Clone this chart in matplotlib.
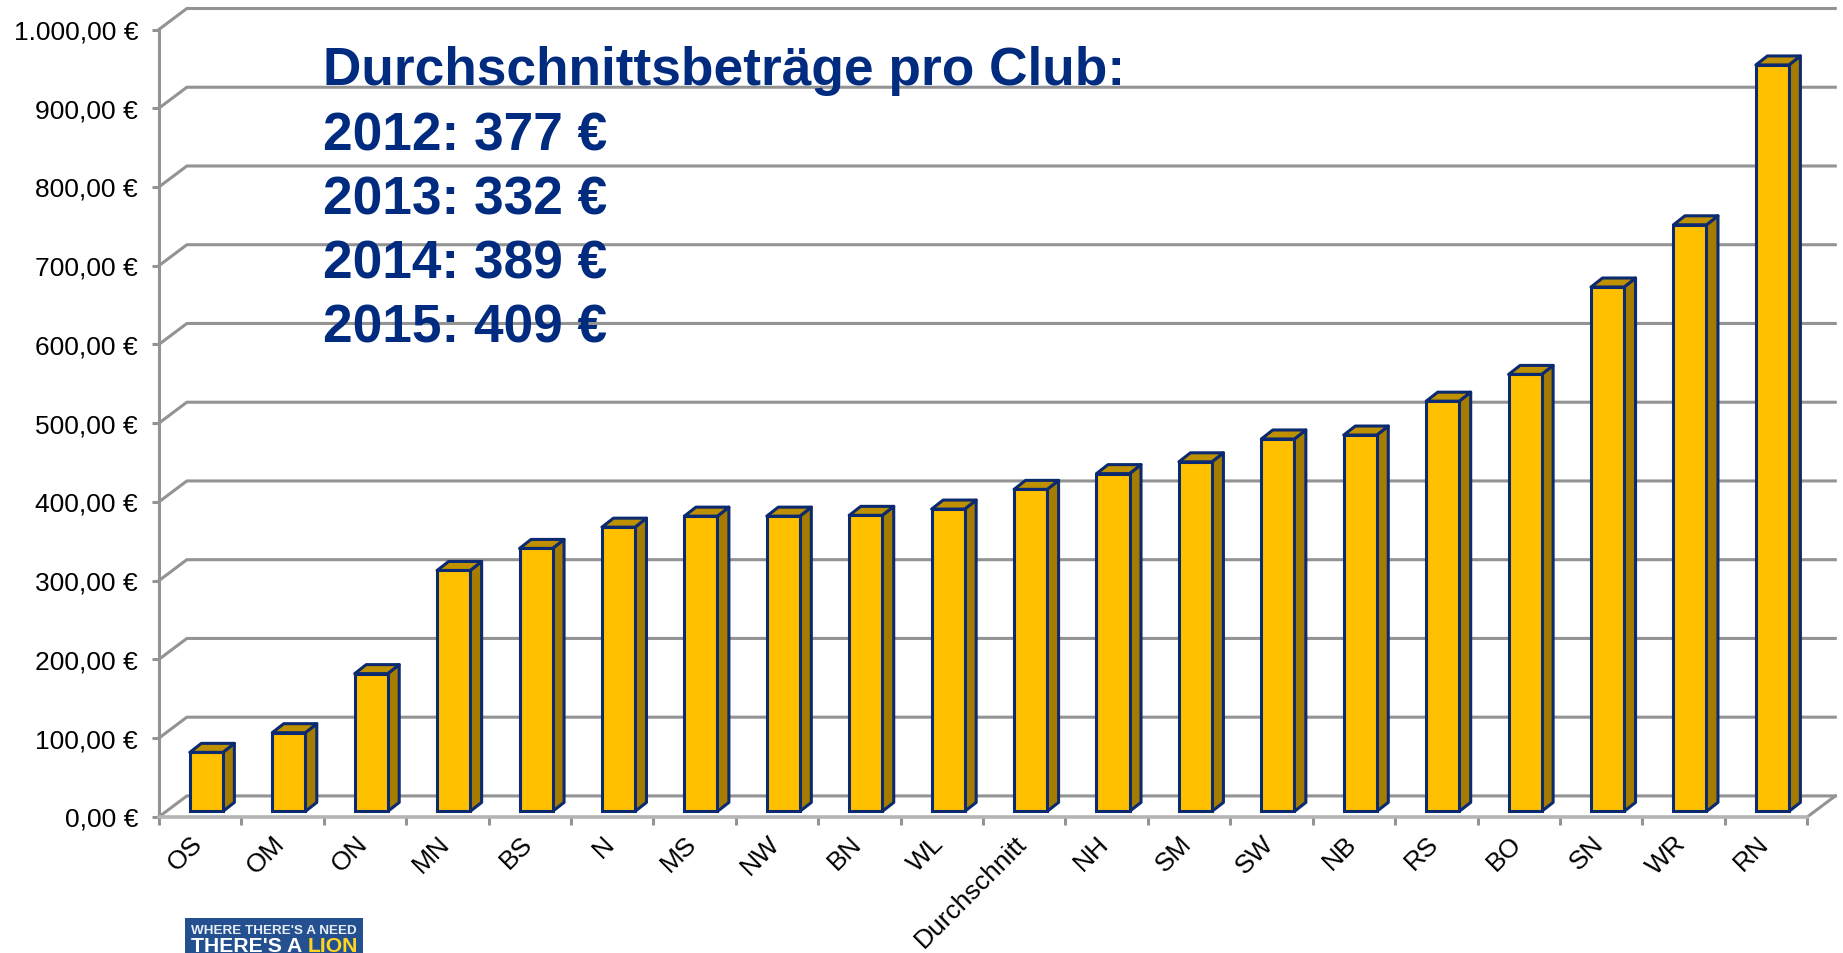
import matplotlib
matplotlib.use("Agg")
from matplotlib import pyplot as plt
from matplotlib.patches import Polygon, Rectangle
from matplotlib.ticker import FuncFormatter
from matplotlib.transforms import ScaledTranslation

plt.rcParams["font.family"] = ["Liberation Sans", "DejaVu Sans"]

clubs = ["OS", "OM", "ON", "MN", "BS", "N", "MS", "NW", "BN", "WL", "Durchschnitt",
         "NH", "SM", "SW", "NB", "RS", "BO", "SN", "WR", "RN"]
amounts = [75, 100, 175, 306, 334, 361, 375, 375, 376, 384, 409,
           429, 444, 473, 478, 521, 555, 666, 745, 948]
years = [2012, 2013, 2014, 2015]
year_avgs = [377, 332, 389, 409]
y_ticks = list(range(0, 1001, 100))

W, H = 1843, 953
GRID = "#939393"
NAVY = "#002b7f"
EDGE = "#0b2a6f"
FRONT = "#ffc000"
SIDE = "#a67c00"
TOP = "#bf9000"

# pixel positions of the front plane of the fake 3d box
left, right = 158.8, 1806.8
bottom, top = 817, 30

fig = plt.figure(figsize=((W + 0.5) / 100, (H + 0.5) / 100), dpi=100)
ax = fig.add_axes([left / W, 1 - bottom / H, (right - left) / W, (bottom - top) / H])
ax.set_xlim(-0.5, len(clubs) - 0.5)
ax.set_ylim(0, 1000)

# depth of the box and of the bars, in data units
px_x = (len(clubs)) / (right - left)
px_y = 1000 / (bottom - top)
wall_dx, wall_dy = 28 * px_x, 21 * px_y
bar_dx, bar_dy = 11.5 * px_x, 9 * px_y
bar_w = 33 * px_x
bar_shift = 6.3 * px_x
bar_base = 5.5 * px_y

# walls
x0 = -0.5
x1 = len(clubs) - 0.5
for v in y_ticks:
    ax.plot([x0, x0 + wall_dx, x1 + wall_dx], [v, v + wall_dy, v + wall_dy],
            color=GRID, lw=2.2, clip_on=False, zorder=1, solid_joinstyle="round")
ax.plot([x1, x1 + wall_dx], [0, wall_dy], color=GRID, lw=2.2, clip_on=False, zorder=1)

# bars
positions = [i + bar_shift for i in range(len(clubs))]
ax.bar(positions, amounts, bar_w, bottom=bar_base, color=FRONT, edgecolor=EDGE,
       linewidth=2.2, zorder=3, clip_on=False)
for x, v in zip(positions, amounts):
    xl, xr = x - bar_w / 2, x + bar_w / 2
    yb, yt = bar_base, bar_base + v
    ax.add_patch(Polygon([(xr, yb), (xr + bar_dx, yb + bar_dy), (xr + bar_dx, yt + bar_dy), (xr, yt)],
                         facecolor=SIDE, edgecolor=EDGE, lw=2.2, zorder=2, clip_on=False,
                         joinstyle="round"))
    ax.add_patch(Polygon([(xl, yt), (xl + bar_dx, yt + bar_dy), (xr + bar_dx, yt + bar_dy), (xr, yt)],
                         facecolor=TOP, edgecolor=EDGE, lw=2.2, zorder=2, clip_on=False,
                         joinstyle="round"))

# axes
for s in ["top", "right"]:
    ax.spines[s].set_visible(False)
ax.spines["left"].set_color(GRID)
ax.spines["left"].set_linewidth(2.2)
ax.spines["bottom"].set_color("#b4b4b4")
ax.spines["bottom"].set_linewidth(2.6)
ax.patch.set_alpha(0)

ax.set_yticks(y_ticks)
ax.yaxis.set_major_formatter(FuncFormatter(
    lambda v, p: f"{int(v):,},00 €".replace(",", ".", 1) if v >= 1000 else f"{int(v)},00 €"))
ax.tick_params(axis="y", length=5, width=2.2, color=GRID, labelsize=19, pad=10, labelcolor="black")

ax.set_xticks(range(len(clubs)))
ax.set_xticklabels(clubs, rotation=45, ha="right", va="top", rotation_mode="anchor", fontsize=19)
ax.set_xticks([i - 0.5 for i in range(len(clubs) + 1)], minor=True)
ax.tick_params(axis="x", which="major", length=0, pad=10.5)
ax.tick_params(axis="x", which="minor", length=6, width=2.2, color=GRID)
for lab in ax.get_xticklabels():
    lab.set_transform(lab.get_transform() + ScaledTranslation(-10 / 100, 0, fig.dpi_scale_trans))

# text block over the chart
lines = ["Durchschnittsbeträge pro Club:"] + [f"{y}: {a} €" for y, a in zip(years, year_avgs)]
baselines = [85, 150, 214, 278, 342]
for line, by in zip(lines, baselines):
    fig.text(323 / W, 1 - by / H, line, color=NAVY, fontsize=38.3, fontweight="bold",
             va="baseline", ha="left", zorder=10)

# slogan badge, cut off by the picture edge
fig.add_artist(Rectangle((184.5 / W, 0), 178.5 / W, 35 / H, transform=fig.transFigure,
                         facecolor="#24508f", edgecolor="none"))
fig.text(191 / W, 1 - 934 / H, "WHERE THERE'S A NEED", color="#e8eef7", fontsize=9.7,
         fontweight="bold", va="baseline")
fig.text(191 / W, 1 - 952 / H, "THERE'S A", color="white", fontsize=15.2,
         fontweight="bold", va="baseline")
fig.text(308 / W, 1 - 952 / H, "LION", color="#ffd520", fontsize=15.2,
         fontweight="bold", va="baseline")

fig.savefig("out.png", dpi=100)
